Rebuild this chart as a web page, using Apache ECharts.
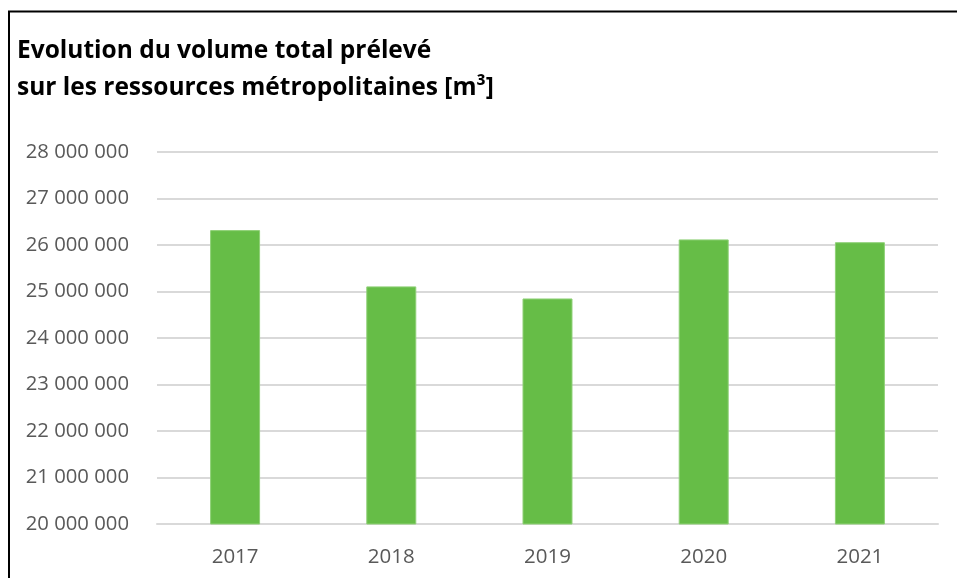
<!DOCTYPE html>
<html>
<head>
<meta charset="utf-8">
<script src="https://cdn.jsdelivr.net/npm/echarts@6/dist/echarts.min.js"></script>
<style>
html,body{margin:0;padding:0;background:#fff;}
#chart{width:957px;height:578px;}
</style>
</head>
<body>
<div id="chart"></div>
<script>
var titleLines = ['Evolution du volume total prélevé', 'sur les ressources métropolitaines [m³]'];
var years = ['2017', '2018', '2019', '2020', '2021'];
var volumes = [26320000, 25110000, 24850000, 26120000, 26060000];
var yMin = 20000000, yMax = 28000000, yStep = 1000000;

function fmt(v) {
  return String(Math.round(v)).replace(/\B(?=(\d{3})+(?!\d))/g, ' ');
}

var chart = echarts.init(document.getElementById('chart'), null, {renderer: 'canvas'});
chart.setOption({
  animation: false,
  backgroundColor: '#ffffff',
  textStyle: {fontFamily: 'Open Sans'},
  graphic: [
    {type: 'rect', shape: {x: 9, y: 11.5, width: 2000, height: 2000},
     style: {fill: 'none', stroke: '#000', lineWidth: 2}, silent: true},
    {type: 'text', left: 17, top: 33,
     style: {text: titleLines.join('\n'), fill: '#000', font: 'bold 24.5px "Open Sans"', lineHeight: 37}}
  ],
  grid: {left: 157, right: 19, top: 152, bottom: 54, containLabel: false},
  xAxis: {
    type: 'category', data: years,
    axisLine: {show: true, lineStyle: {color: '#d9d9d9', width: 2}},
    axisTick: {show: false},
    axisLabel: {color: '#595959', fontSize: 20.5, margin: 23, fontFamily: 'Open Sans'}
  },
  yAxis: {
    type: 'value', min: yMin, max: yMax, interval: yStep,
    axisLine: {show: false}, axisTick: {show: false},
    splitLine: {lineStyle: {color: '#d9d9d9', width: 2}},
    axisLabel: {color: '#595959', fontSize: 20.3, margin: 28, fontFamily: 'Open Sans', formatter: fmt}
  },
  series: [{
    type: 'bar', data: volumes, barWidth: '32%',
    itemStyle: {color: '#66BD47', borderColor: '#8fd077', borderWidth: 1}
  }]
});
</script>
</body>
</html>
